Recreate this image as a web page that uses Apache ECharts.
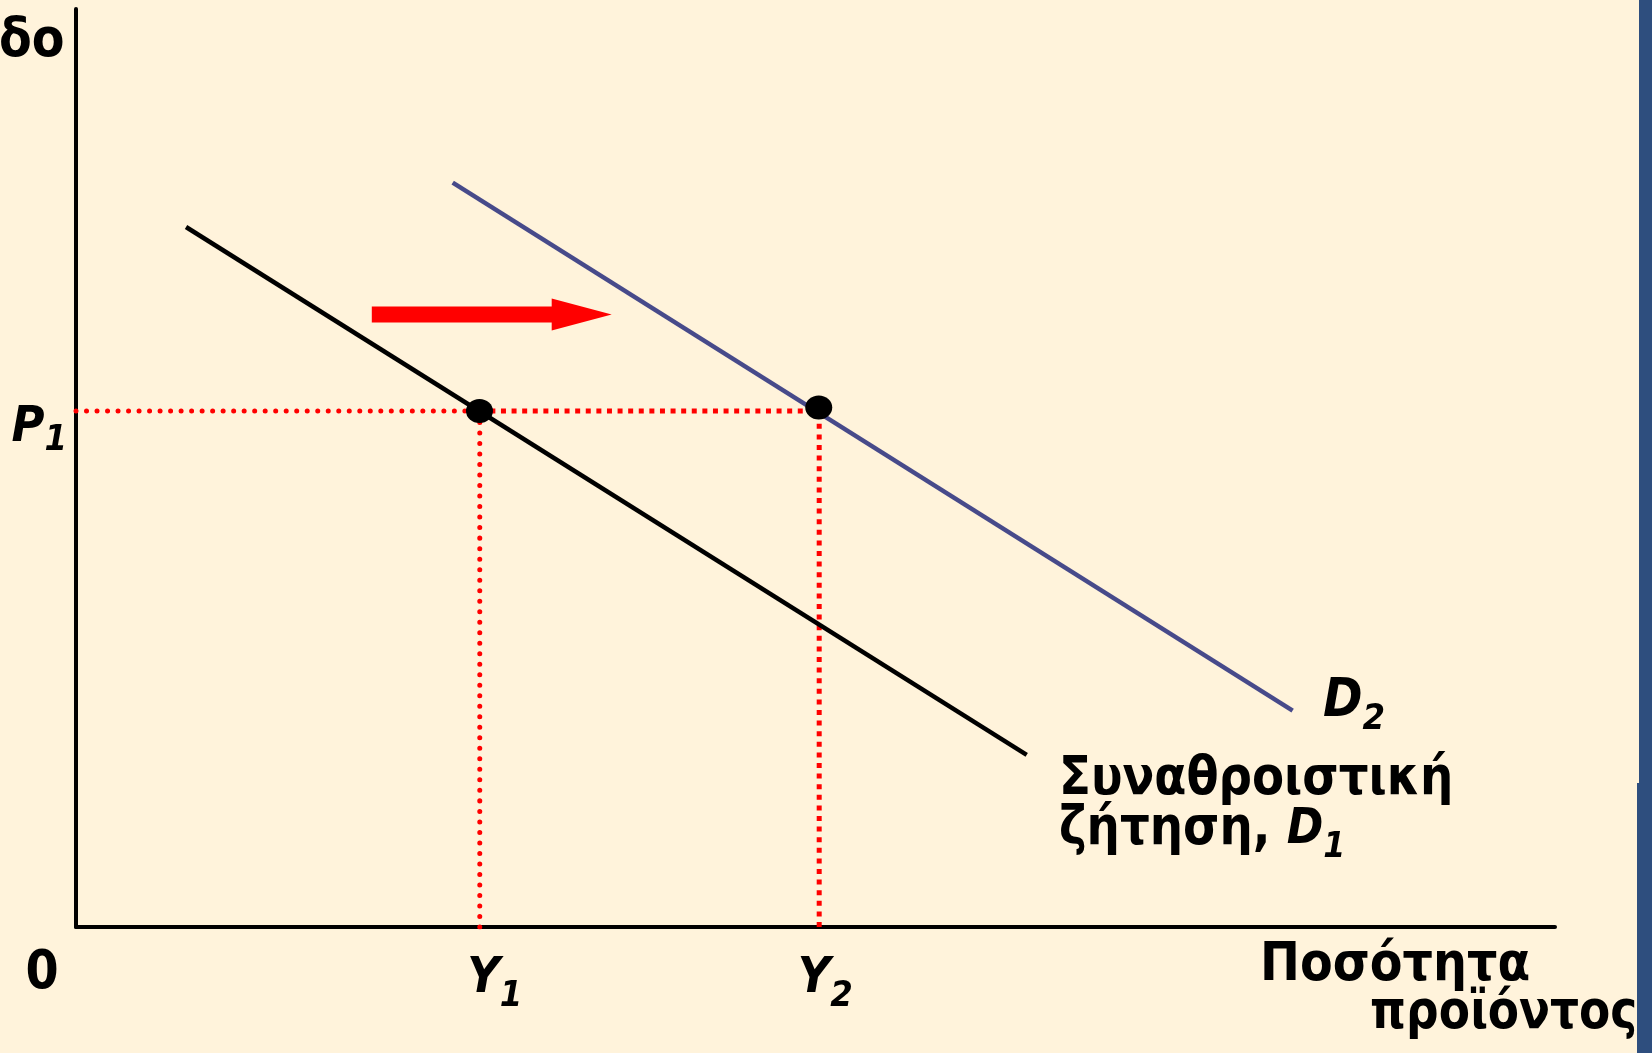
<!DOCTYPE html>
<html>
<head>
<meta charset="utf-8">
<script src="https://cdn.jsdelivr.net/npm/echarts@6/dist/echarts.min.js"></script>
<style>
html,body{margin:0;padding:0;background:#FFF3DB;}
#chart{width:1652px;height:1053px;}
</style>
</head>
<body>
<div id="chart"></div>
<script>
// ---- data (abstract units: x 0..100, y 0..100) ----
const xExtent = [0, 100];
const yExtent = [0, 100];
const demandD1 = [[7.44, 76.25], [64.28, 18.74]];
const demandD2 = [[25.47, 81.08], [82.26, 23.56]];
const equilibria = [[27.28, 56.2], [50.22, 56.6]];
const priceP1 = 56.2;
const outputY1 = 27.3;
const outputY2 = 50.25;
const shiftArrow = [[20.0, 66.72, 36.22, 66.72]];
const xTickValues = [outputY1, outputY2];
const xTickMain = ['Y', 'Y'];
const xTickSub = ['1', '2'];
const yTickValues = [priceP1];
const yTickMain = ['P'];
const yTickSub = ['1'];

const FONT = "'DejaVu Sans Condensed', 'DejaVu Sans', Verdana, sans-serif";

const chart = echarts.init(document.getElementById('chart'), null, {renderer: 'canvas'});

const mainRich = {fontFamily: FONT, fontWeight: 'bold', fontSize: 53, lineHeight: 50, color: '#000'};
const itRich = {fontFamily: FONT, fontWeight: 'bold', fontStyle: 'italic', fontSize: 50, lineHeight: 50, color: '#000'};
const subRich = {fontFamily: FONT, fontWeight: 'bold', fontStyle: 'italic', fontSize: 36, lineHeight: 40, color: '#000', padding: [36, 0, 0, 0]};

const option = {
  backgroundColor: '#FFF3DB',
  animation: false,
  grid: {left: 76, right: 97, top: 9, bottom: 126, outerBoundsMode: 'none', containLabel: false},
  xAxis: {
    type: 'value', min: xExtent[0], max: xExtent[1],
    axisLine: {show: true, onZero: false, lineStyle: {color: '#000', width: 4, cap: 'round'}},
    axisTick: {show: false}, splitLine: {show: false},
    axisLabel: {
      customValues: xTickValues,
      margin: 27,
      formatter: function (v) {
        const i = xTickValues.indexOf(v);
        if (i < 0) return '';
        return '{m' + i + '|' + xTickMain[i] + '}{s|' + xTickSub[i] + '}';
      },
      rich: {
        m0: Object.assign({}, itRich, {padding: [0, 0, 0, 30]}),
        m1: Object.assign({}, itRich, {padding: [0, 0, 0, 12]}),
        s: subRich
      }
    }
  },
  yAxis: {
    type: 'value', min: yExtent[0], max: yExtent[1],
    axisLine: {show: true, onZero: false, lineStyle: {color: '#000', width: 4, cap: 'round'}},
    axisTick: {show: false}, splitLine: {show: false},
    axisLabel: {
      customValues: yTickValues,
      margin: 9,
      formatter: function (v) {
        const i = yTickValues.indexOf(v);
        if (i < 0) return '';
        return '{m|' + yTickMain[i] + '}{s|' + yTickSub[i] + '}';
      },
      rich: {
        m: Object.assign({}, itRich, {padding: [34, 0, 0, 0]}),
        s: Object.assign({}, subRich, {padding: [60, 0, 0, 0]})
      }
    }
  },
  series: [
    {
      type: 'line', name: 'D1', data: demandD1, symbol: 'none', z: 3,
      lineStyle: {color: '#000000', width: 4.5}
    },
    {
      type: 'line', name: 'D2', data: demandD2, symbol: 'none', z: 3,
      lineStyle: {color: '#474A8A', width: 4.5}
    },
    {
      type: 'line', name: 'guideRoundH', data: [[0, priceP1], [outputY1, priceP1]], symbol: 'none', z: 2,
      lineStyle: {color: '#FF0000', width: 5, type: [0.01, 10.5], cap: 'round'}
    },
    {
      type: 'line', name: 'guideRoundV', data: [[outputY1, 0], [outputY1, priceP1]], symbol: 'none', z: 2,
      lineStyle: {color: '#FF0000', width: 5, type: [0.01, 10.5], cap: 'round'}
    },
    {
      type: 'line', name: 'guideSquareH', data: [[outputY1, priceP1], [outputY2, priceP1]], symbol: 'none', z: 2,
      lineStyle: {color: '#FF0000', width: 5, type: [5, 5.6], cap: 'butt'}
    },
    {
      type: 'line', name: 'guideSquareV', data: [[outputY2, 0], [outputY2, priceP1]], symbol: 'none', z: 2,
      lineStyle: {color: '#FF0000', width: 5, type: [5, 5.6], cap: 'butt'}
    },
    {
      type: 'scatter', name: 'equilibria', data: equilibria, symbol: 'circle', symbolSize: [27, 24], z: 5,
      itemStyle: {color: '#000', opacity: 1}
    },
    {
      type: 'custom', name: 'shift', data: shiftArrow, z: 4,
      renderItem: function (params, api) {
        const s = api.coord([api.value(0), api.value(1)]);
        const e = api.coord([api.value(2), api.value(3)]);
        const headLen = 60, shaftHalf = 8, headHalf = 16;
        return {
          type: 'polygon',
          shape: {points: [
            [s[0], s[1] - shaftHalf], [e[0] - headLen, s[1] - shaftHalf], [e[0] - headLen, e[1] - headHalf],
            [e[0], e[1]], [e[0] - headLen, e[1] + headHalf], [e[0] - headLen, s[1] + shaftHalf], [s[0], s[1] + shaftHalf]
          ]},
          style: {fill: '#FF0000'}
        };
      }
    }
  ],
  graphic: [
    {type: 'text', x: -1, y: 17, z: 10, style: {text: 'δο', font: 'bold 53px ' + FONT, fill: '#000', lineHeight: 50, verticalAlign: 'top'}},
    {type: 'text', x: 42, y: 949, z: 10, style: {text: '0', font: 'bold 53px ' + FONT, fill: '#000', lineHeight: 50, align: 'center', verticalAlign: 'top'}},
    {type: 'text', x: 1323, y: 677, z: 10, style: {text: '{d|D}{s|2}', rich: {d: Object.assign({}, itRich, {fontSize: 53}), s: subRich}, verticalAlign: 'top'}},
    {type: 'text', x: 1059, y: 755, z: 10, scaleX: 0.98, style: {text: '{m|Συναθροιστική}\n{m|ζήτηση, }{d|D}{s|1}', rich: {m: mainRich, d: itRich, s: subRich}, verticalAlign: 'top'}},
    {type: 'text', x: 1260, y: 941, z: 10, style: {text: 'Ποσότητα', font: 'bold 53px ' + FONT, fill: '#000', lineHeight: 50, verticalAlign: 'top'}},
    {type: 'text', x: 1370, y: 989, z: 10, scaleX: 0.955, style: {text: 'προϊόντος', font: 'bold 53px ' + FONT, fill: '#000', lineHeight: 50, verticalAlign: 'top'}},
    {type: 'rect', z: 20, shape: {x: 1639, y: 0, width: 13, height: 783}, style: {fill: '#2E4E7E'}},
    {type: 'rect', z: 20, shape: {x: 1637, y: 783, width: 15, height: 270}, style: {fill: '#2E4E7E'}}
  ]
};
chart.setOption(option);
</script>
</body>
</html>
